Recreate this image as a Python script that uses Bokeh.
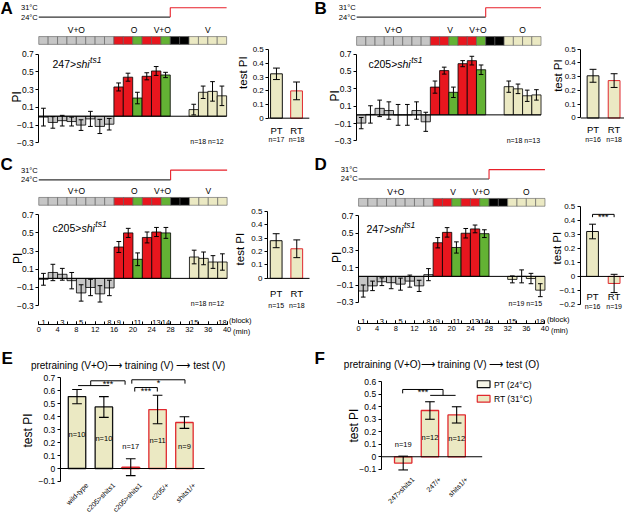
import math
from bokeh.plotting import figure
from bokeh.models import Range1d, LinearAxis, FixedTicker
from bokeh.core.properties import value
from bokeh.embed import file_html
from bokeh.resources import INLINE

FONT = "Liberation Sans"

# ---------------- data ----------------
blocks = list(range(1, 19))
shown_block_labels = [1, 3, 5, 8, 9, 11, 13, 14, 15, 18]
minute_ticks = [0, 4, 8, 12, 16, 20, 24, 28, 32, 36, 40]
minor_minutes = list(range(0, 41, 2))
cell_minutes = 2
protocol_cells = (["pre"] * 8 + ["train", "train", "probe", "train", "train", "probe"]
                  + ["pause", "pause"] + ["test"] * 4)
temp_levels = [24, 31]
temp_switch = 28
main_ticks = [-0.3, -0.1, 0.1, 0.3, 0.5, 0.7]

phases_AC = ["V+O", "O", "V+O", "V"]
phases_BD = ["V+O", "V", "V+O", "O"]

A_pi = [-0.01, -0.07, -0.05, -0.06, -0.10, -0.03, -0.115, -0.09,
        0.33, 0.44, 0.205, 0.45, 0.51, 0.465, 0.075, 0.27, 0.28, 0.23]
A_err = [0.10, 0.065, 0.06, 0.05, 0.06, 0.085, 0.08, 0.065,
         0.045, 0.045, 0.065, 0.04, 0.05, 0.03, 0.06, 0.07, 0.11, 0.11]
B_pi = [-0.095, 0.005, 0.075, 0.05, 0.0, 0.0, 0.05, -0.08,
        0.32, 0.51, 0.26, 0.59, 0.625, 0.52, 0.325, 0.30, 0.22, 0.23]
B_err = [0.065, 0.10, 0.095, 0.10, 0.12, 0.12, 0.10, 0.11,
         0.07, 0.04, 0.06, 0.035, 0.05, 0.055, 0.065, 0.055, 0.065, 0.06]
C_pi = [-0.01, 0.065, 0.045, -0.025, -0.16, -0.10, -0.17, -0.105,
        0.345, 0.50, 0.21, 0.45, 0.51, 0.50, 0.235, 0.22, 0.18, 0.18]
C_err = [0.065, 0.09, 0.065, 0.09, 0.09, 0.09, 0.09, 0.085,
         0.06, 0.05, 0.07, 0.06, 0.05, 0.06, 0.075, 0.07, 0.07, 0.09]
D_pi = [-0.17, -0.11, -0.062, -0.073, -0.09, -0.055, -0.11, 0.02,
        0.39, 0.51, 0.335, 0.50, 0.55, 0.495, -0.035, 0.0, -0.025, -0.16]
D_err = [0.07, 0.055, 0.045, 0.07, 0.07, 0.07, 0.065, 0.07,
         0.06, 0.055, 0.065, 0.055, 0.045, 0.045, 0.04, 0.075, 0.06, 0.075]

test_groups = ["PT", "RT"]
A_test, A_test_err, A_test_n = [0.325, 0.20], [0.042, 0.065], ["n=17", "n=18"]
B_test, B_test_err, B_test_n = [0.307, 0.272], [0.047, 0.05], ["n=16", "n=18"]
C_test, C_test_err, C_test_n = [0.28, 0.22], [0.052, 0.066], ["n=15", "n=18"]
D_test, D_test_err, D_test_n = [0.32, -0.05], [0.052, 0.065], ["n=16", "n=19"]
A_n, B_n, C_n, D_n = "n=18  n=12", "n=18 n=13", "n=18  n=12", "n=19  n=15"

e_groups = ["wild-type", "c205>shits1", "c205>shits1", "c205/+", "shits1/+"]
e_cond = ["PT", "PT", "RT", "RT", "RT"]
e_pi = [0.555, 0.475, 0.01, 0.455, 0.355]
e_err = [0.055, 0.08, 0.065, 0.11, 0.045]
e_n = ["n=10", "n=10", "n=17", "n=11", "n=9"]
e_ticks = [-0.1, 0, 0.1, 0.2, 0.3, 0.4, 0.5, 0.6, 0.7]

f_groups = ["247>shits1", "247/+", "shits1/+"]
f_cond = ["RT", "RT", "RT"]
f_pi = [-0.05, 0.37, 0.335]
f_err = [0.055, 0.07, 0.065]
f_n = ["n=19", "n=12", "n=12"]
f_ticks = [-0.1, 0, 0.1, 0.2, 0.3, 0.4, 0.5, 0.6]
legend_labels = ["PT (24\u00b0C)", "RT (31\u00b0C)"]

# ---------------- styles ----------------
CELL_COL = {"pre": "#c6c6c6", "train": "#e8161e", "probe": "#63b234",
            "pause": "#000000", "test": "#ebe9c3"}
BEIGE = "#ebe9c3"
RT_EDGE = "#e0282e"
PT_EDGE = "#111111"
TEMP_RED = "#e8202a"

W, H = 624, 514
RX0, RY0 = 2.0, 2.0
SX, SY = 0.981, 0.975
RW, RH = W / SX, H / SY

p = figure(width=W, height=H, x_range=Range1d(RX0, RX0 + RW),
           y_range=Range1d(RY0 + RH, RY0), x_axis_type=None, y_axis_type=None,
           toolbar_location=None, output_backend="svg", min_border=0,
           outline_line_color=None)


class Map:
    def __init__(self, name, dx0, dx1, rx0, rx1, dy0, dy1, ry0, ry1):
        self.name = name
        self.kx = (dx1 - dx0) / (rx1 - rx0)
        self.dx0, self.rx0 = dx0, rx0
        self.ky = (dy1 - dy0) / (ry0 - ry1)
        self.dy0, self.ry0 = dy0, ry0
        p.extra_x_ranges[name] = Range1d(self.X(RX0), self.X(RX0 + RW))
        p.extra_y_ranges[name] = Range1d(self.Y(RY0 + RH), self.Y(RY0))

    def X(self, rx):
        return self.dx0 + self.kx * (rx - self.rx0)

    def Y(self, ry):
        return self.dy0 + self.ky * (self.ry0 - ry)


def txt(xs, ys, texts, size, xr="default", yr="default", align="left",
        baseline="middle", angle=0.0, style="normal", color="black", dx=0, dy=0):
    p.text(x=list(xs), y=list(ys), text=list(texts), x_range_name=xr, y_range_name=yr,
           text_font=value(FONT), text_font_size=value(f"{size}px"), text_align=align,
           text_baseline=baseline, angle=angle, text_font_style=style,
           text_color=color, x_offset=dx, y_offset=dy)


def style_axis(ax, size):
    ax.axis_line_color = "black"
    ax.axis_line_width = 1
    ax.major_tick_line_color = "black"
    ax.major_tick_out = 3
    ax.major_tick_in = 0
    ax.minor_tick_line_color = None
    ax.major_label_text_font = FONT
    ax.major_label_text_font_size = f"{size}px"
    ax.major_label_text_color = "black"
    ax.major_label_standoff = 2


def yaxis(m, xloc, lo, hi, ticks, size=8.5):
    ax = LinearAxis(x_range_name=m.name, y_range_name=m.name, fixed_location=xloc,
                    bounds=(lo, hi), ticker=FixedTicker(ticks=ticks, minor_ticks=[]))
    ax.major_label_overrides = {0: "0"}
    style_axis(ax, size)
    p.add_layout(ax, "left")


def errbars(xs, ys, es, half, name, width=1):
    lo = [y - e for y, e in zip(ys, es)]
    hi = [y + e for y, e in zip(ys, es)]
    kw = dict(x_range_name=name, y_range_name=name, line_color="black", line_width=width)
    p.segment(x0=xs, y0=lo, x1=xs, y1=hi, **kw)
    xl = [x - half for x in xs]
    xr = [x + half for x in xs]
    p.segment(x0=xl, y0=hi, x1=xr, y1=hi, **kw)
    p.segment(x0=xl, y0=lo, x1=xr, y1=lo, **kw)


def block_cell(b):
    return b - 1 if b <= 14 else b + 1


def block_center(b):
    return cell_minutes * block_cell(b) + cell_minutes / 2


ADV = {'0': .556, '1': .556, '2': .556, '3': .556, '4': .556, '5': .556, '6': .556,
       '7': .556, '8': .556, '9': .556, '>': .584, 'c': .5, 's': .5, 'h': .556,
       'i': .222, 't': .278}


def tw(s, size):
    return sum(ADV.get(ch, .55) for ch in s) * size


PHASE_MIN = [8, 20.3, 26.3, 36]

GEOM = {
    "A": dict(x0=41, x40=232.5, y07=57, ym03=148, t24=19, t31=9.5, s_top=39, s_bot=47,
              geno=(55, 67), letter=(2, 10.5), n_y=147, pi_x=19,
              test=dict(ax=275.5, c1=283.3, c2=303.8, y0=122.7, y05=52.7, ymin=0,
                        lab=(249, 76), ptrt_y=135, n_y=145)),
    "B": dict(x0=365, x40=553, y07=57, ym03=146, t24=19, t31=9.5, s_top=39, s_bot=48,
              geno=(377, 67), letter=(322, 10.5), n_y=146, pi_x=343,
              test=dict(ax=593.5, c1=606, c2=627.5, y0=122.5, y05=52, ymin=0,
                        lab=(570, 79), ptrt_y=134, n_y=144.5)),
    "C": dict(x0=41, x40=233, y07=221.7, ym03=315, t24=186, t31=176, s_top=204, s_bot=212,
              geno=(55, 235), letter=(2, 170), n_y=313, pi_x=20, baxis_y=334,
              test=dict(ax=274, c1=283, c2=304, y0=287, y05=218, ymin=0,
                        lab=(246, 257), ptrt_y=303, n_y=315)),
    "D": dict(x0=367, x40=557, y07=223, ym03=311.5, t24=185, t31=175.5, s_top=205,
              s_bot=213, geno=(375, 236), letter=(322, 170), n_y=313, pi_x=345,
              baxis_y=333,
              test=dict(ax=593, c1=605.5, c2=627.5, y0=285, y05=213, ymin=-0.2,
                        lab=(569, 256), ptrt_y=306, n_y=316)),
}

TEST_TICKS = {0: [0, 0.1, 0.2, 0.3, 0.4, 0.5],
              -0.2: [-0.2, -0.1, 0, 0.1, 0.2, 0.3, 0.4, 0.5]}


def main_panel(key, pi, err, phases, n_text, geno_prefix, test, test_err, test_n,
               signif=False):
    g = GEOM[key]
    m = Map(key, 0, 40, g["x0"], g["x40"], -0.3, 0.7, g["ym03"], g["y07"])
    mT = Map(key + "T", 0, 40, g["x0"], g["x40"], temp_levels[0], temp_levels[1],
             g["t24"], g["t31"])
    mS = Map(key + "S", 0, 40, g["x0"], g["x40"], 0, 1, g["s_bot"], g["s_top"])
    txt([g["letter"][0]], [g["letter"][1]], [key], 17, style="bold")

    # temperature protocol
    tk = dict(x_range_name=mT.name, y_range_name=mT.name, line_width=1.1)
    p.line([0, temp_switch], [temp_levels[0]] * 2, line_color="#333333", **tk)
    p.line([temp_switch, temp_switch, 40],
           [temp_levels[0], temp_levels[1], temp_levels[1]], line_color=TEMP_RED, **tk)
    txt([0, 0], temp_levels, ["24\u00b0C", "31\u00b0C"], 7.5, xr=mT.name, yr=mT.name,
        align="right", dx=-1)

    # protocol strip
    lefts = [cell_minutes * i for i in range(len(protocol_cells))]
    p.quad(left=lefts, right=[l + cell_minutes for l in lefts], bottom=0, top=1,
           fill_color=[CELL_COL[c] for c in protocol_cells], line_color="#5a5a5a",
           line_width=0.6, x_range_name=mS.name, y_range_name=mS.name)
    txt(PHASE_MIN, [1] * len(phases), phases, 8.5, xr=mS.name, yr=mS.name,
        align="center", baseline="bottom", dy=-1.5)

    # bars
    xs = [block_center(b) for b in blocks]
    cols = [CELL_COL[protocol_cells[block_cell(b)]] for b in blocks]
    kw = dict(x_range_name=key, y_range_name=key)
    p.vbar(x=xs, top=pi, bottom=0, width=cell_minutes, fill_color=cols,
           line_color="black", line_width=0.8, **kw)
    p.line([0, 40], [0, 0], line_color="black", line_width=1, **kw)
    errbars(xs, pi, err, 0.5, key)
    yaxis(m, 0, -0.3, 0.7, main_ticks)
    txt([g["pi_x"]], [0.22], ["PI"], 12, yr=key, align="center", angle=math.pi / 2)

    # genotype label
    gx, gy = g["geno"]
    w1 = tw(geno_prefix, 10.5)
    w2 = tw("shi", 10.5)
    txt([gx], [gy], [geno_prefix], 10.5, baseline="alphabetic")
    txt([gx], [gy], ["shi"], 10.5, baseline="alphabetic", style="italic", dx=w1)
    txt([gx], [gy], ["ts1"], 8.5, baseline="alphabetic", style="italic",
        dx=w1 + w2 + 0.5, dy=-4)
    txt([39.8], [g["n_y"]], [n_text], 7, xr=key, align="right")

    # block / minute axis
    if "baxis_y" in g:
        loc = m.Y(g["baxis_y"])
        bx = LinearAxis(x_range_name=key, y_range_name=key, fixed_location=loc,
                        bounds=(0, 40),
                        ticker=FixedTicker(ticks=minute_ticks, minor_ticks=minor_minutes))
        style_axis(bx, 7.5)
        bx.major_tick_in = 3
        bx.major_tick_out = 0
        bx.minor_tick_in = 3
        bx.minor_tick_out = 0
        bx.minor_tick_line_color = "black"
        bx.major_label_standoff = 3
        p.add_layout(bx, "below")
        txt([block_center(b) for b in shown_block_labels], [loc] * len(shown_block_labels),
            [str(b) for b in shown_block_labels], 7.5, xr=key, yr=key, align="center",
            baseline="bottom", dy=0.5)
        txt([40], [loc], ["(block)"], 7.5, xr=key, yr=key, baseline="bottom", dx=2, dy=0.5)
        txt([40], [loc], ["(min)"], 7.5, xr=key, yr=key, baseline="top", dx=6, dy=3)

    # test PI panel
    t = g["test"]
    mt = Map(key + "t", 1, 2, t["c1"], t["c2"], 0, 0.5, t["y0"], t["y05"])
    sp = t["c2"] - t["c1"]
    tx = [1, 2]
    p.vbar(x=tx, top=test, bottom=0, width=12 / sp, fill_color=BEIGE,
           line_color=[PT_EDGE, RT_EDGE], line_width=1, x_range_name=mt.name,
           y_range_name=mt.name)
    p.line([mt.X(t["ax"]), mt.X(t["c2"] + 13)], [0, 0], line_color="black", line_width=1,
           x_range_name=mt.name, y_range_name=mt.name)
    errbars(tx, test, test_err, 3.5 / sp, mt.name)
    yaxis(mt, mt.X(t["ax"]), t["ymin"], 0.5, TEST_TICKS[t["ymin"]], 8)
    txt([t["lab"][0]], [t["lab"][1]], ["test PI"], 11.5, align="center", angle=math.pi / 2)
    txt(tx, [t["ptrt_y"]] * 2, test_groups, 9.5, xr=mt.name, align="center")
    txt(tx, [t["n_y"]] * 2, test_n, 7, xr=mt.name, align="center")
    if signif:
        top = max(v + e for v, e in zip(test, test_err)) + 0.07
        p.multi_line(xs=[[1, 1, 2, 2]], ys=[[top - 0.02, top, top, top - 0.02]],
                     line_color="black", line_width=1, x_range_name=mt.name,
                     y_range_name=mt.name)
        txt([1.5], [top], ["***"], 9, xr=mt.name, yr=mt.name, align="center",
            baseline="alphabetic", dy=3)


main_panel("A", A_pi, A_err, phases_AC, A_n, "247>", A_test, A_test_err, A_test_n)
main_panel("B", B_pi, B_err, phases_BD, B_n, "c205>", B_test, B_test_err, B_test_n)
main_panel("C", C_pi, C_err, phases_AC, C_n, "c205>", C_test, C_test_err, C_test_n)
main_panel("D", D_pi, D_err, phases_BD, D_n, "247>", D_test, D_test_err, D_test_n,
           signif=True)


def group_panel(key, m, groups, cond, pi, err, nlab, nlab_y, ticks, lo, hi, ax_rx, end_rx,
                lab_ry, title, title_pos, letter_pos, ylabel_pos):
    xs = list(range(1, len(groups) + 1))
    edges = [PT_EDGE if c == "PT" else RT_EDGE for c in cond]
    p.vbar(x=xs, top=pi, bottom=0, width=0.65, fill_color=BEIGE, line_color=edges,
           line_width=1.3, x_range_name=key, y_range_name=key)
    p.line([m.X(ax_rx), m.X(end_rx)], [0, 0], line_color="black", line_width=1.1,
           x_range_name=key, y_range_name=key)
    errbars(xs, pi, err, 0.18, key, width=1.1)
    yaxis(m, m.X(ax_rx), lo, hi, ticks, 8.5)
    txt(xs, nlab_y, nlab, 7.5, xr=key, yr=key, align="center")
    txt(xs, [lab_ry] * len(xs), groups, 7, xr=key, align="right",
        angle=math.pi / 4, dx=10)
    txt([title_pos[0]], [title_pos[1]], [title], 10)
    txt([letter_pos[0]], [letter_pos[1]], [key], 17, style="bold")
    txt([ylabel_pos[0]], [ylabel_pos[1]], ["test PI"], 12, align="center",
        angle=math.pi / 2)


mE = Map("E", 1, 5, 80, 189.5, 0, 0.7, 482, 389)
group_panel("E", mE, e_groups, e_cond, e_pi, e_err, e_n, [0.26, 0.23, 0.17, 0.22, 0.17],
            e_ticks, -0.1, 0.7, 63, 210, 498,
            "pretraining (V+O)\u27f6 training (V) \u27f6 test (V)", (33, 376), (3, 369),
            (30, 443))
mF = Map("F", 1, 3, 412.5, 467, 0, 0.6, 470, 393)
group_panel("F", mF, f_groups, f_cond, f_pi, f_err, f_n, [0.095, 0.155, 0.148],
            f_ticks, -0.1, 0.6, 390, 493, 492,
            "pretraining (V+O)\u27f6 training (V) \u27f6 test (O)", (352, 375), (322, 369),
            (362, 438))

# significance brackets in E
bE = dict(x_range_name="E", y_range_name="E", line_color="black", line_width=1)
p.multi_line(xs=[[1.04, 2.2], [1.51, 1.51, 2.79, 2.79], [3.04, 3.04, 5.02, 5.02],
                 [3.15, 3.15, 3.99, 3.99]],
             ys=[[0.64, 0.64], [0.64, 0.677, 0.677, 0.647], [0.655, 0.685, 0.685, 0.655],
                 [0.594, 0.625, 0.625, 0.594]], **bE)
txt([2.15, 4.03, 3.57], [0.677, 0.685, 0.625], ["***", "*", "***"], 9, xr="E", yr="E",
    align="center", baseline="alphabetic", dy=3)
# significance bracket in F
p.multi_line(xs=[[0.98, 0.98, 2.49, 2.49], [2.01, 2.96]],
             ys=[[0.507, 0.538, 0.538, 0.491], [0.491, 0.491]],
             x_range_name="F", y_range_name="F", line_color="black", line_width=1)
txt([1.74], [0.538], ["***"], 9, xr="F", yr="F", align="center", baseline="alphabetic",
    dy=3)

# legend (F)
p.quad(left=[488, 488], right=[501, 501], top=[392, 407], bottom=[399, 414],
       fill_color=["#f6f5e6", BEIGE], line_color=[PT_EDGE, RT_EDGE], line_width=1.2)
txt([505, 505], [396, 410.5], legend_labels, 8.5)

open("out.html", "w").write(file_html(p, INLINE))
